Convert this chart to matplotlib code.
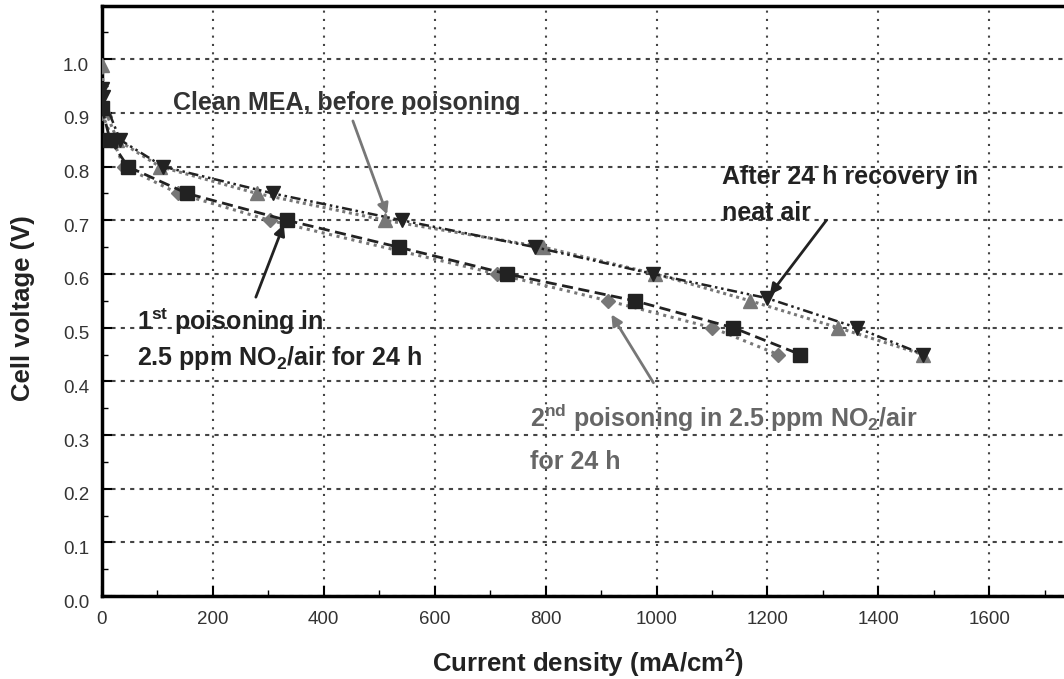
import numpy as np
import matplotlib
matplotlib.use('Agg')
import matplotlib.pyplot as plt
import matplotlib.transforms as mtransforms

plt.rcParams['font.family'] = ['Liberation Sans', 'DejaVu Sans']
plt.rcParams['mathtext.fontset'] = 'custom'
plt.rcParams['mathtext.rm'] = 'Liberation Sans'
plt.rcParams['mathtext.bf'] = 'Liberation Sans:bold'

# Polarization data
clean_x = [0, 6, 28, 105, 280, 511, 796, 998, 1169, 1327, 1480]
clean_v = [0.99, 0.905, 0.85, 0.80, 0.75, 0.70, 0.65, 0.60, 0.55, 0.50, 0.45]

recov_x = [0, 2, 33, 111, 309, 541, 781, 994, 1199, 1361, 1481]
recov_v = [0.945, 0.93, 0.85, 0.80, 0.75, 0.70, 0.65, 0.60, 0.555, 0.50, 0.45]

pois1_x = [0, 15, 47, 154, 334, 535, 731, 961, 1138, 1259]
pois1_v = [0.91, 0.85, 0.80, 0.75, 0.70, 0.65, 0.60, 0.55, 0.50, 0.45]

pois2_x = [0, 40, 138, 303, 713, 913, 1100, 1219]
pois2_v = [0.90, 0.80, 0.75, 0.70, 0.60, 0.55, 0.50, 0.45]

x_ticks = [0, 200, 400, 600, 800, 1000, 1200, 1400, 1600]
y_ticks = [0.0, 0.1, 0.2, 0.3, 0.4, 0.5, 0.6, 0.7, 0.8, 0.9, 1.0]

dark = '#222222'
grey = '#777777'

fig = plt.figure(figsize=(10.64, 6.79), dpi=100)
# axes runs past the right edge of the picture, like the cropped original
ax = fig.add_axes([0.0956, 0.1222, 0.9386, 0.8695])

ax.plot(clean_x, clean_v, color=grey, ls=(0, (1, 1.2)), lw=2.2,
        marker='^', ms=9.5, mfc=grey, mec=grey, zorder=3)
ax.plot(recov_x, recov_v, color=dark, ls=(0, (4, 1.5, 1, 1.5, 1, 1.5)), lw=1.8,
        marker='v', ms=9.5, mfc=dark, mec=dark, zorder=4)
ax.plot(pois2_x, pois2_v, color=grey, ls=(0, (1, 1.5)), lw=2.2,
        marker='D', ms=7.5, mfc=grey, mec=grey, zorder=3)
ax.plot(pois1_x, pois1_v, color=dark, ls=(0, (4, 2)), lw=2,
        marker='s', ms=10.5, mfc=dark, mec=dark, zorder=4)

ax.set_xlim(0, 1800)
ax.set_ylim(0, 1.1)
ax.set_xticks(x_ticks)
ax.set_xticks(np.arange(100, 1800, 200), minor=True)
ax.set_yticks(y_ticks)
ax.set_yticks(np.arange(0.05, 1.1, 0.1), minor=True)
ax.set_yticklabels(['%.1f' % v for v in y_ticks])
ax.tick_params(which='both', direction='in', labelsize=13.5, labelcolor='#333333',
               top=False, right=False)
ax.tick_params(which='major', length=7, width=1.5)
ax.tick_params(which='minor', length=4, width=1)
ax.tick_params(axis='x', which='major', pad=11)
ax.tick_params(axis='y', which='major', pad=9)

# y tick labels sit a little below their ticks in the original
shift = mtransforms.ScaledTranslation(0, -5 / 100, fig.dpi_scale_trans)
for lab in ax.get_yticklabels():
    lab.set_transform(lab.get_transform() + shift)

for s in ax.spines.values():
    s.set_linewidth(2.5)

ax.xaxis.grid(True, color='#444444', ls=(0, (1, 3)), lw=1.5)
ax.yaxis.grid(True, color='#444444', ls=(0, (2, 2.5)), lw=1.5)
ax.set_axisbelow(True)

ax.set_xlabel(r'Current density (mA/cm$^{\mathbf{2}}$)', fontsize=18.5, fontweight='bold',
              color=dark)
ax.xaxis.set_label_coords(0.487, -0.085)
ax.set_ylabel('Cell voltage (V)', fontsize=18.5, fontweight='bold', color=dark)
ax.yaxis.set_label_coords(-0.067, 0.488)

fs = 18
ax.text(128, 0.918, 'Clean MEA, before poisoning', fontsize=fs, fontweight='bold',
        color='#333333', va='center')
ax.annotate('', xy=(516, 0.706), xytext=(451, 0.89),
            arrowprops=dict(arrowstyle='-|>', color=grey, lw=2, mutation_scale=16))

ax.text(1118, 0.781, 'After 24 h recovery in', fontsize=fs, fontweight='bold',
        color=dark, va='center')
ax.text(1118, 0.714, 'neat air', fontsize=fs, fontweight='bold', color=dark, va='center')
ax.annotate('', xy=(1201, 0.557), xytext=(1309, 0.704),
            arrowprops=dict(arrowstyle='-|>', color=dark, lw=2, mutation_scale=16))

ax.text(64, 0.511, r'1$^{\mathbf{st}}$ poisoning in', fontsize=fs, fontweight='bold',
        color=dark, va='center')
ax.text(64, 0.443, r'2.5 ppm NO$_{\mathbf{2}}$/air for 24 h', fontsize=fs,
        fontweight='bold', color=dark, va='center')
ax.annotate('', xy=(330, 0.697), xytext=(276, 0.552),
            arrowprops=dict(arrowstyle='-|>', color=dark, lw=2, mutation_scale=16))

ax.text(772, 0.332, r'2$^{\mathbf{nd}}$ poisoning in 2.5 ppm NO$_{\mathbf{2}}$/air',
        fontsize=fs, fontweight='bold', color='#666666', va='center')
ax.text(772, 0.250, 'for 24 h', fontsize=fs, fontweight='bold', color='#666666',
        va='center')
ax.annotate('', xy=(916, 0.529), xytext=(997, 0.393),
            arrowprops=dict(arrowstyle='-|>', color=grey, lw=2, mutation_scale=16))

fig.savefig('out.png', dpi=100)
